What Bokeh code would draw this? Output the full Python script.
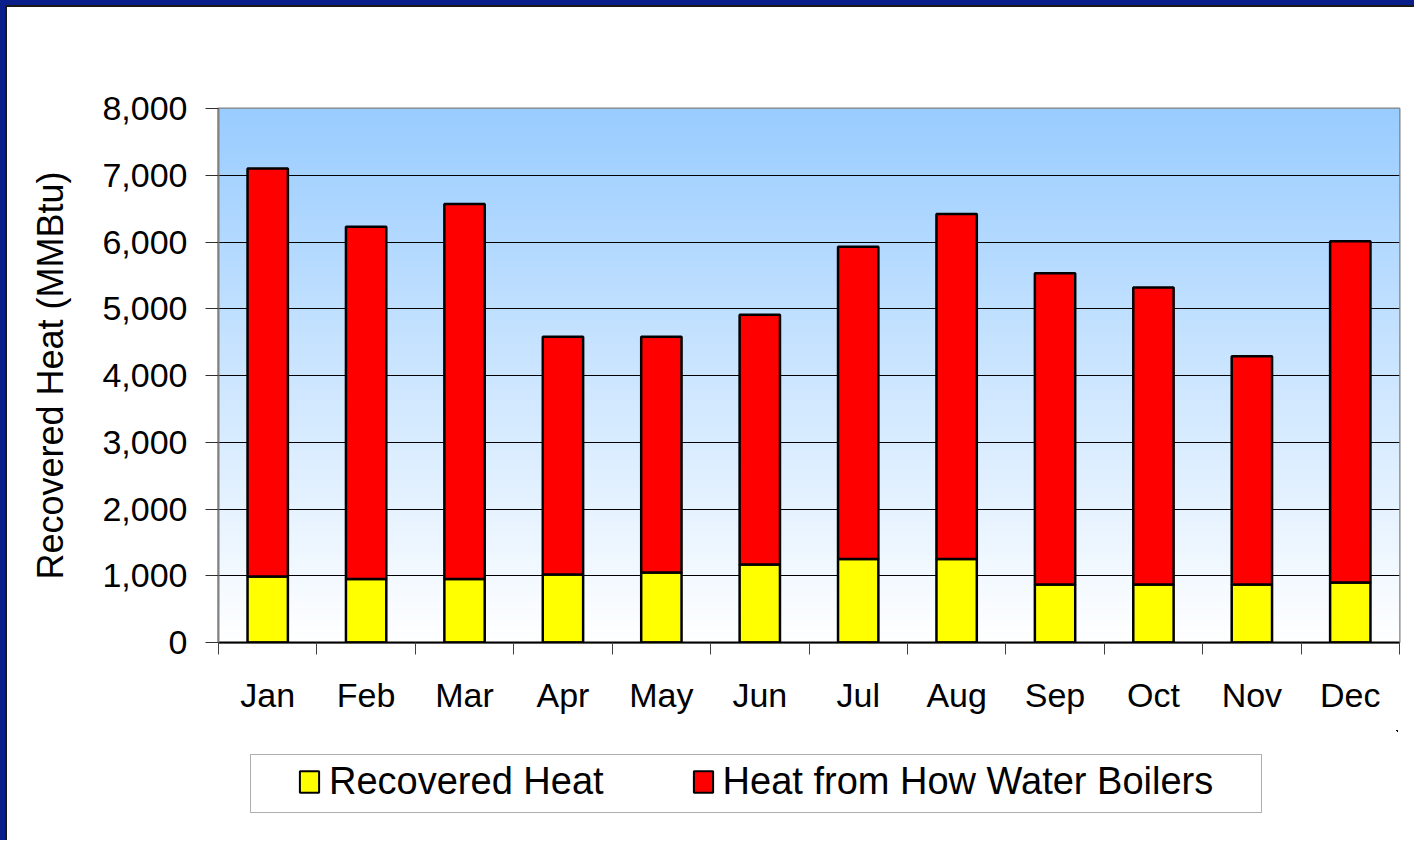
import numpy as np
from bokeh.plotting import figure
from bokeh.layouts import column
from bokeh.models import (ColumnDataSource, FixedTicker, NumeralTickFormatter, Legend,
                          LegendItem, Range1d)
from bokeh.embed import file_html
from bokeh.resources import INLINE

months = ["Jan", "Feb", "Mar", "Apr", "May", "Jun", "Jul", "Aug", "Sep", "Oct", "Nov", "Dec"]
recovered = [990, 950, 950, 1020, 1050, 1170, 1250, 1250, 870, 870, 870, 900]
boilers = [6110, 5280, 5620, 3560, 3530, 3740, 4680, 5170, 4660, 4450, 3420, 5110]
y_ticks = [0, 1000, 2000, 3000, 4000, 5000, 6000, 7000, 8000]
series_names = ["Recovered Heat", "Heat from How Water Boilers"]
series_colors = ["#FFFF00", "#FF0000"]

FONT = "Liberation Sans"
x_pos = list(range(len(months)))

p = figure(frame_width=1179, frame_height=532,
           x_range=Range1d(-0.5, len(months) - 0.5), y_range=Range1d(y_ticks[0], y_ticks[-1]),
           min_border_left=211, min_border_right=17, min_border_top=101, min_border_bottom=90,
           output_backend="svg", toolbar_location=None)
p.background_fill_color = "white"
p.border_fill_color = "white"
p.outline_line_color = "#808080"
p.outline_line_width = 2
p.styles = {"border-left": "2px solid #1a1a1a", "border-top": "2px solid #1a1a1a"}

# gradient plot-area background (light blue at top fading to white)
n = 400
t = np.linspace(0.0, 1.0, n)
img = np.empty((n, 1), dtype=np.uint32)
view = img.view(dtype=np.uint8).reshape((n, 1, 4))
view[:, 0, 0] = np.round(255 + (153 - 255) * t).astype(np.uint8)
view[:, 0, 1] = np.round(255 + (204 - 255) * t).astype(np.uint8)
view[:, 0, 2] = 255
view[:, 0, 3] = 255
p.image_rgba(image=[img], x=-0.5, y=y_ticks[0], dw=len(months), dh=y_ticks[-1] - y_ticks[0], level="image")

src = ColumnDataSource(dict(x=x_pos, recovered=recovered, boilers=boilers))
rs = p.vbar_stack(["recovered", "boilers"], x="x", width=0.41, source=src,
                  fill_color=series_colors, line_color="black", line_width=2.5)

# y axis
p.yaxis.ticker = FixedTicker(ticks=y_ticks)
p.yaxis.formatter = NumeralTickFormatter(format="0,0")
p.yaxis.axis_label = "Recovered Heat (MMBtu)"
p.yaxis.axis_label_text_font = FONT
p.yaxis.axis_label_text_font_size = "36px"
p.yaxis.axis_label_text_font_style = "normal"
p.yaxis.axis_label_text_color = "black"
p.yaxis.axis_label_standoff = 28
p.yaxis.major_label_text_font = FONT
p.yaxis.major_label_text_font_size = "34px"
p.yaxis.major_label_text_color = "black"
p.yaxis.major_label_standoff = 18
p.yaxis.major_tick_out = 13
p.yaxis.major_tick_in = 0
p.yaxis.minor_tick_out = 0
p.yaxis.minor_tick_in = 0
p.yaxis.major_tick_line_color = "#303030"
p.yaxis.axis_line_color = "#808080"
p.yaxis.axis_line_width = 2

# x axis
p.xaxis.ticker = FixedTicker(ticks=x_pos, minor_ticks=[i - 0.5 for i in range(len(months) + 1)])
p.xaxis.major_label_overrides = {i: m for i, m in zip(x_pos, months)}
p.xaxis.major_label_text_font = FONT
p.xaxis.major_label_text_font_size = "34px"
p.xaxis.major_label_text_color = "black"
p.xaxis.major_label_standoff = 21
p.xaxis.major_tick_out = 0
p.xaxis.major_tick_in = 0
p.xaxis.minor_tick_out = 12
p.xaxis.minor_tick_in = 0
p.xaxis.minor_tick_line_color = "#404040"
p.xaxis.axis_line_color = "black"
p.xaxis.axis_line_width = 2

p.xgrid.visible = False
p.ygrid.ticker = FixedTicker(ticks=y_ticks)
p.ygrid.grid_line_color = "black"
p.ygrid.grid_line_width = 1

# legend strip: a second figure under the chart holding the same series, viewed
# over an empty window so that only its legend shows
lg = figure(width=1407, height=110, x_range=Range1d(-100, -99), y_range=Range1d(-100, -99),
            x_axis_type=None, y_axis_type=None, min_border=0,
            output_backend="svg", toolbar_location=None)
lg.outline_line_color = None
lg.background_fill_color = "white"
lg.border_fill_color = "white"
lg.grid.visible = False
lg.styles = {"border-left": "2px solid #1a1a1a"}
key_renderers = lg.vbar_stack(["recovered", "boilers"], x="x", width=0.41, source=src,
                              fill_color=series_colors, line_color="black", line_width=2)
ghost = lg.vbar(x="x", top="recovered", width=0.41, source=src, fill_alpha=0, line_alpha=0)

# frame of the legend box
legend_box = Legend(items=[LegendItem(label=" ", renderers=[ghost])],
                    orientation="horizontal", location=(32, 27), margin=0, padding=0,
                    glyph_width=1, glyph_height=57, label_standoff=0, label_width=1009,
                    label_text_font_size="2px",
                    border_line_color="#606060", border_line_width=1.5,
                    background_fill_color="white", background_fill_alpha=1.0)
lg.add_layout(legend_box)

legend = Legend(items=[LegendItem(label=name, renderers=[r])
                       for name, r in zip(series_names, key_renderers)],
                orientation="horizontal", location=(40, 37), margin=0,
                title=" ", title_location="left", title_text_font_size="1px", title_standoff=38,
                label_text_font=FONT, label_text_font_size="38px", label_text_color="black",
                glyph_width=24, glyph_height=27, spacing=87, label_standoff=8, padding=7,
                border_line_color=None, background_fill_alpha=0.0)
lg.add_layout(legend)

page = column(p, lg, spacing=0,
              styles={"border-left": "5px solid #0A1F8C", "border-top": "5px solid #0A1F8C"})

open("out.html", "w").write(file_html(page, INLINE))
